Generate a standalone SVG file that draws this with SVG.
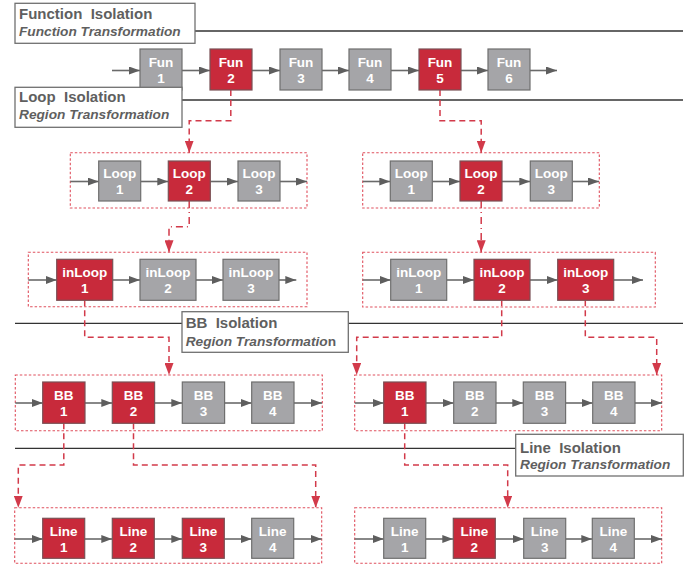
<svg xmlns="http://www.w3.org/2000/svg" width="695" height="568" viewBox="0 0 695 568">
<style>
.g{fill:#a5a5a8;stroke:#6e6e6e;stroke-width:1.2}
.r{fill:#c82a3b;stroke:#7a5055;stroke-width:1.2}
.t{font-family:"Liberation Sans",Arial,sans-serif;font-weight:bold;font-size:13.5px;fill:#fff;text-anchor:middle}
.ar{stroke:#6a6a6a;stroke-width:1.6;fill:none;marker-end:url(#ah)}
.cn{stroke:#d23a4a;stroke-width:1.5;fill:none;stroke-dasharray:6 4;marker-end:url(#rh)}
.cd{stroke:#d23a4a;stroke-width:1.5;fill:none;stroke-dasharray:7 4 1 4;marker-end:url(#rh)}
.db{fill:none;stroke:#e0505e;stroke-width:1.1;stroke-dasharray:2.5 2}
.hb{fill:#fff;stroke:#707070;stroke-width:1.3}
.h1{font-family:"Liberation Sans",Arial,sans-serif;font-weight:bold;font-size:15px;fill:#5f5f5f}
.h2{font-family:"Liberation Sans",Arial,sans-serif;font-weight:bold;font-style:italic;font-size:13.7px;fill:#5f5f5f}
.sep{stroke:#333;stroke-width:1.3}
</style>
<defs>
<marker id="ah" markerWidth="11" markerHeight="8" refX="11" refY="4" orient="auto" markerUnits="userSpaceOnUse"><path d="M0,0 L11,4 L0,8 z" fill="#5e5e5e"/></marker>
<marker id="rh" markerWidth="9" markerHeight="12" refX="4.5" refY="12" orient="0" markerUnits="userSpaceOnUse"><path d="M0,0 L9,0 L4.5,12 z" fill="#d23a4a"/></marker>
</defs>

<g id="separators">
<line class="sep" x1="195" y1="31" x2="683" y2="31"/>
<line class="sep" x1="182" y1="100" x2="683" y2="100"/>
<line class="sep" x1="15" y1="323.3" x2="182" y2="323.3"/>
<line class="sep" x1="348" y1="323.3" x2="683" y2="323.3"/>
<line class="sep" x1="15" y1="448.3" x2="516" y2="448.3"/>
</g>

<g id="regions">
<rect class="db" x="70.3" y="152.7" width="236.7" height="55.3"/>
<rect class="db" x="362.7" y="152.7" width="236.6" height="55.3"/>
<rect class="db" x="28.3" y="252.3" width="278.7" height="54.4"/>
<rect class="db" x="362.7" y="252.3" width="292.6" height="54.7"/>
<rect class="db" x="15.3" y="375" width="307" height="55.7"/>
<rect class="db" x="354.7" y="375" width="307" height="55.7"/>
<rect class="db" x="14.7" y="507.7" width="307" height="55.6"/>
<rect class="db" x="354.7" y="507.7" width="307" height="55.6"/>
</g>

<g id="connectors">
<line class="ar" x1="112" y1="70.5" x2="140" y2="70.5"/>
<line class="ar" x1="182" y1="70.5" x2="210" y2="70.5"/>
<line class="ar" x1="252" y1="70.5" x2="280" y2="70.5"/>
<line class="ar" x1="322" y1="70.5" x2="349" y2="70.5"/>
<line class="ar" x1="391" y1="70.5" x2="419" y2="70.5"/>
<line class="ar" x1="461" y1="70.5" x2="488" y2="70.5"/>
<line class="ar" x1="530" y1="70.5" x2="557" y2="70.5"/>

<line class="ar" x1="70.3" y1="181.5" x2="98.7" y2="181.5"/>
<line class="ar" x1="140.7" y1="181.5" x2="168.3" y2="181.5"/>
<line class="ar" x1="210.3" y1="181.5" x2="238" y2="181.5"/>
<line class="ar" x1="280" y1="181.5" x2="307" y2="181.5"/>
<line class="ar" x1="362.7" y1="181.5" x2="390.3" y2="181.5"/>
<line class="ar" x1="432.3" y1="181.5" x2="460" y2="181.5"/>
<line class="ar" x1="502" y1="181.5" x2="530.3" y2="181.5"/>
<line class="ar" x1="572.3" y1="181.5" x2="599" y2="181.5"/>

<line class="ar" x1="28.3" y1="280" x2="56.7" y2="280"/>
<line class="ar" x1="112.7" y1="280" x2="140" y2="280"/>
<line class="ar" x1="196" y1="280" x2="223" y2="280"/>
<line class="ar" x1="279" y1="280" x2="296.3" y2="280"/>
<line class="ar" x1="362.7" y1="280" x2="390.7" y2="280"/>
<line class="ar" x1="446.7" y1="280" x2="474" y2="280"/>
<line class="ar" x1="530" y1="280" x2="557.7" y2="280"/>
<line class="ar" x1="613.7" y1="280" x2="643" y2="280"/>

<line class="ar" x1="15.3" y1="403" x2="42.7" y2="403"/>
<line class="ar" x1="85" y1="403" x2="112.3" y2="403"/>
<line class="ar" x1="154.6" y1="403" x2="182.3" y2="403"/>
<line class="ar" x1="224.6" y1="403" x2="251.7" y2="403"/>
<line class="ar" x1="294" y1="403" x2="322" y2="403"/>
<line class="ar" x1="354.7" y1="403" x2="383.7" y2="403"/>
<line class="ar" x1="426" y1="403" x2="453.7" y2="403"/>
<line class="ar" x1="495.7" y1="403" x2="523.3" y2="403"/>
<line class="ar" x1="565.6" y1="403" x2="592.7" y2="403"/>
<line class="ar" x1="635" y1="403" x2="662" y2="403"/>

<line class="ar" x1="14.7" y1="539" x2="42.7" y2="539"/>
<line class="ar" x1="84.7" y1="539" x2="112.3" y2="539"/>
<line class="ar" x1="154.3" y1="539" x2="182.3" y2="539"/>
<line class="ar" x1="224.3" y1="539" x2="251.7" y2="539"/>
<line class="ar" x1="293.7" y1="539" x2="321.7" y2="539"/>
<line class="ar" x1="354.7" y1="539" x2="383.7" y2="539"/>
<line class="ar" x1="425.7" y1="539" x2="453.3" y2="539"/>
<line class="ar" x1="495.3" y1="539" x2="523.7" y2="539"/>
<line class="ar" x1="565.7" y1="539" x2="592.3" y2="539"/>
<line class="ar" x1="634.3" y1="539" x2="662" y2="539"/>

<path class="cn" d="M230.8,90 V120.7 H189.2 V152.7"/>
<path class="cn" d="M440,90 V120.7 H481.2 V152.7"/>
<path class="cd" d="M189.2,201 V226.7 H169 V252.3"/>
<path class="cd" d="M481.2,201 V252.3"/>
<path class="cn" d="M84.7,300.3 V337.3 H169 V375"/>
<path class="cn" d="M501.7,300.3 V337.3 H356.7 V375"/>
<path class="cn" d="M585.3,300.3 V337.3 H656.7 V375"/>
<path class="cn" d="M63.8,423.3 V465 H18.3 V507.7"/>
<path class="cn" d="M133.5,423.3 V465 H315.7 V507.7"/>
<path class="cn" d="M404.7,423.3 V465 H507.7 V507.7"/>
</g>

<g id="fun1"><rect class="g" x="140" y="49" width="42" height="41"/><text class="t" x="161" y="66.5">Fun</text><text class="t" x="161" y="82.5">1</text></g>
<g id="fun2"><rect class="r" x="210" y="49" width="42" height="41"/><text class="t" x="231" y="66.5">Fun</text><text class="t" x="231" y="82.5">2</text></g>
<g id="fun3"><rect class="g" x="280" y="49" width="42" height="41"/><text class="t" x="301" y="66.5">Fun</text><text class="t" x="301" y="82.5">3</text></g>
<g id="fun4"><rect class="g" x="349" y="49" width="42" height="41"/><text class="t" x="370" y="66.5">Fun</text><text class="t" x="370" y="82.5">4</text></g>
<g id="fun5"><rect class="r" x="419" y="49" width="42" height="41"/><text class="t" x="440" y="66.5">Fun</text><text class="t" x="440" y="82.5">5</text></g>
<g id="fun6"><rect class="g" x="488" y="49" width="42" height="41"/><text class="t" x="509" y="66.5">Fun</text><text class="t" x="509" y="82.5">6</text></g>

<g id="loopL1"><rect class="g" x="98.7" y="161" width="42" height="40"/><text class="t" x="119.7" y="178.3">Loop</text><text class="t" x="119.7" y="194">1</text></g>
<g id="loopL2"><rect class="r" x="168.3" y="161" width="42" height="40"/><text class="t" x="189.3" y="178.3">Loop</text><text class="t" x="189.3" y="194">2</text></g>
<g id="loopL3"><rect class="g" x="238" y="161" width="42" height="40"/><text class="t" x="259" y="178.3">Loop</text><text class="t" x="259" y="194">3</text></g>
<g id="loopR1"><rect class="g" x="390.3" y="161" width="42" height="40"/><text class="t" x="411.3" y="178.3">Loop</text><text class="t" x="411.3" y="194">1</text></g>
<g id="loopR2"><rect class="r" x="460" y="161" width="42" height="40"/><text class="t" x="481" y="178.3">Loop</text><text class="t" x="481" y="194">2</text></g>
<g id="loopR3"><rect class="g" x="530.3" y="161" width="42" height="40"/><text class="t" x="551.3" y="178.3">Loop</text><text class="t" x="551.3" y="194">3</text></g>

<g id="inLoopL1"><rect class="r" x="56.7" y="259.3" width="56" height="41"/><text class="t" x="84.7" y="276.5">inLoop</text><text class="t" x="84.7" y="292.5">1</text></g>
<g id="inLoopL2"><rect class="g" x="140" y="259.3" width="56" height="41"/><text class="t" x="168" y="276.5">inLoop</text><text class="t" x="168" y="292.5">2</text></g>
<g id="inLoopL3"><rect class="g" x="223" y="259.3" width="56" height="41"/><text class="t" x="251" y="276.5">inLoop</text><text class="t" x="251" y="292.5">3</text></g>
<g id="inLoopR1"><rect class="g" x="390.7" y="259.3" width="56" height="41"/><text class="t" x="418.7" y="276.5">inLoop</text><text class="t" x="418.7" y="292.5">1</text></g>
<g id="inLoopR2"><rect class="r" x="474" y="259.3" width="56" height="41"/><text class="t" x="502" y="276.5">inLoop</text><text class="t" x="502" y="292.5">2</text></g>
<g id="inLoopR3"><rect class="r" x="557.7" y="259.3" width="56" height="41"/><text class="t" x="585.7" y="276.5">inLoop</text><text class="t" x="585.7" y="292.5">3</text></g>

<g id="bbL1"><rect class="r" x="42.7" y="382" width="42.3" height="41.3"/><text class="t" x="63.8" y="399.5">BB</text><text class="t" x="63.8" y="415.5">1</text></g>
<g id="bbL2"><rect class="r" x="112.3" y="382" width="42.3" height="41.3"/><text class="t" x="133.5" y="399.5">BB</text><text class="t" x="133.5" y="415.5">2</text></g>
<g id="bbL3"><rect class="g" x="182.3" y="382" width="42.3" height="41.3"/><text class="t" x="203.5" y="399.5">BB</text><text class="t" x="203.5" y="415.5">3</text></g>
<g id="bbL4"><rect class="g" x="251.7" y="382" width="42.3" height="41.3"/><text class="t" x="272.8" y="399.5">BB</text><text class="t" x="272.8" y="415.5">4</text></g>
<g id="bbR1"><rect class="r" x="383.7" y="382" width="42.3" height="41.3"/><text class="t" x="404.8" y="399.5">BB</text><text class="t" x="404.8" y="415.5">1</text></g>
<g id="bbR2"><rect class="g" x="453.7" y="382" width="42.3" height="41.3"/><text class="t" x="474.8" y="399.5">BB</text><text class="t" x="474.8" y="415.5">2</text></g>
<g id="bbR3"><rect class="g" x="523.3" y="382" width="42.3" height="41.3"/><text class="t" x="544.5" y="399.5">BB</text><text class="t" x="544.5" y="415.5">3</text></g>
<g id="bbR4"><rect class="g" x="592.7" y="382" width="42.3" height="41.3"/><text class="t" x="613.8" y="399.5">BB</text><text class="t" x="613.8" y="415.5">4</text></g>

<g id="lineL1"><rect class="r" x="42.7" y="518.3" width="42" height="40"/><text class="t" x="63.7" y="535.5">Line</text><text class="t" x="63.7" y="551.5">1</text></g>
<g id="lineL2"><rect class="r" x="112.3" y="518.3" width="42" height="40"/><text class="t" x="133.3" y="535.5">Line</text><text class="t" x="133.3" y="551.5">2</text></g>
<g id="lineL3"><rect class="r" x="182.3" y="518.3" width="42" height="40"/><text class="t" x="203.3" y="535.5">Line</text><text class="t" x="203.3" y="551.5">3</text></g>
<g id="lineL4"><rect class="g" x="251.7" y="518.3" width="42" height="40"/><text class="t" x="272.7" y="535.5">Line</text><text class="t" x="272.7" y="551.5">4</text></g>
<g id="lineR1"><rect class="g" x="383.7" y="518.3" width="42" height="40"/><text class="t" x="404.7" y="535.5">Line</text><text class="t" x="404.7" y="551.5">1</text></g>
<g id="lineR2"><rect class="r" x="453.3" y="518.3" width="42" height="40"/><text class="t" x="474.3" y="535.5">Line</text><text class="t" x="474.3" y="551.5">2</text></g>
<g id="lineR3"><rect class="g" x="523.7" y="518.3" width="42" height="40"/><text class="t" x="544.7" y="535.5">Line</text><text class="t" x="544.7" y="551.5">3</text></g>
<g id="lineR4"><rect class="g" x="592.3" y="518.3" width="42" height="40"/><text class="t" x="613.3" y="535.5">Line</text><text class="t" x="613.3" y="551.5">4</text></g>

<g id="hdr-function"><rect class="hb" x="15" y="3.3" width="180" height="40"/><text class="h1" x="19" y="19" xml:space="preserve">Function  Isolation</text><text class="h2" x="19" y="36">Function Transformation</text></g>
<g id="hdr-loop"><rect class="hb" x="15" y="87.3" width="167" height="40"/><text class="h1" x="19" y="102.3" xml:space="preserve">Loop  Isolation</text><text class="h2" x="19" y="119">Region Transformation</text></g>
<g id="hdr-bb"><rect class="hb" x="182" y="311.7" width="166.3" height="40.6"/><text class="h1" x="185.7" y="327.5" xml:space="preserve">BB  Isolation</text><text class="h2" x="185.7" y="345.5">Region Transformatio<tspan font-style="normal">n</tspan></text></g>
<g id="hdr-line"><rect class="hb" x="515.7" y="434.3" width="167.6" height="41.7"/><text class="h1" x="520" y="452.7" xml:space="preserve">Line  Isolation</text><text class="h2" x="520" y="469.3">Region Transformation</text></g>
</svg>
